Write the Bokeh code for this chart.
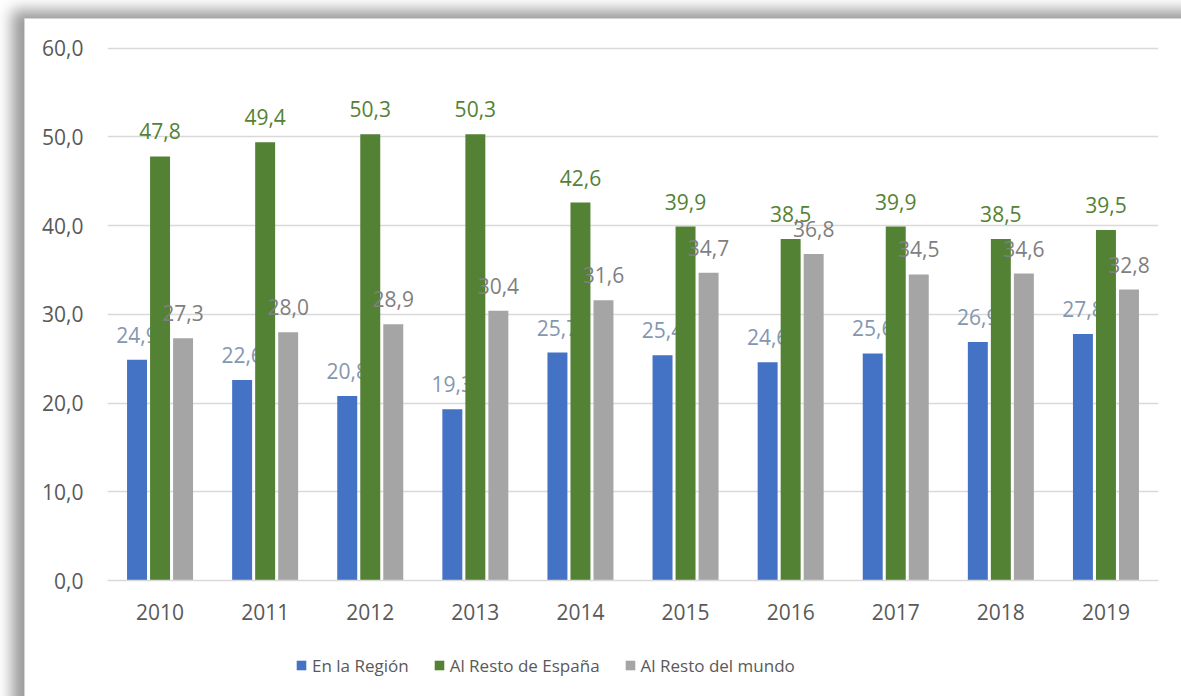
from bokeh.plotting import figure
from bokeh.layouts import column
from bokeh.models import (Range1d, FactorRange, Legend, LegendItem,
                          ColumnDataSource, FixedTicker)
from bokeh.transform import dodge
from bokeh.core.properties import value
from bokeh.embed import file_html
from bokeh.resources import INLINE

years = ["2010", "2011", "2012", "2013", "2014", "2015", "2016", "2017", "2018", "2019"]
region = [24.9, 22.6, 20.8, 19.3, 25.7, 25.4, 24.6, 25.6, 26.9, 27.8]
espana = [47.8, 49.4, 50.3, 50.3, 42.6, 39.9, 38.5, 39.9, 38.5, 39.5]
mundo = [27.3, 28.0, 28.9, 30.4, 31.6, 34.7, 36.8, 34.5, 34.6, 32.8]
series_names = ["En la Región", "Al Resto de España", "Al Resto del mundo"]
y_ticks = [0, 10, 20, 30, 40, 50, 60]
y_tick_labels = ["0,0", "10,0", "20,0", "30,0", "40,0", "50,0", "60,0"]

def fmt(v):
    return f"{v:.1f}".replace(".", ",")

src = ColumnDataSource(dict(
    year=years, region=region, espana=espana, mundo=mundo,
    region_l=[fmt(v) for v in region],
    espana_l=[fmt(v) for v in espana],
    mundo_l=[fmt(v) for v in mundo],
))

W = 1156
H1, H2 = 620, 57
p = figure(width=W, height=H1, x_range=FactorRange(*years, range_padding=0),
           y_range=Range1d(0, 60.2), output_backend="svg", toolbar_location=None,
           min_border_left=82, min_border_right=23, min_border_top=27, min_border_bottom=59)
p.outline_line_color = None
p.background_fill_color = "white"
p.border_fill_color = "white"

FONT = "Open Sans"
p.xaxis.major_label_text_font = FONT
p.yaxis.major_label_text_font = FONT
p.xaxis.major_label_text_font_size = "21px"
p.yaxis.major_label_text_font_size = "21px"
p.xaxis.major_label_text_color = "#595959"
p.yaxis.major_label_text_color = "#595959"
p.xaxis.major_tick_line_color = None
p.yaxis.major_tick_line_color = None
p.xaxis.minor_tick_line_color = None
p.yaxis.minor_tick_line_color = None
p.yaxis.axis_line_color = None
p.xaxis.axis_line_color = "#D9D9D9"
p.xaxis.axis_line_width = 1.5
p.xaxis.major_label_standoff = 17
p.yaxis.major_label_standoff = 18
p.yaxis.ticker = FixedTicker(ticks=y_ticks)
p.yaxis.major_label_overrides = {t: l for t, l in zip(y_ticks, y_tick_labels)}
p.xgrid.grid_line_color = None
p.ygrid.grid_line_color = "#D9D9D9"
p.ygrid.grid_line_width = 1.5
p.ygrid.ticker = FixedTicker(ticks=y_ticks)

colors = ["#4472C4", "#548235", "#A5A5A5"]
label_colors = ["#8497B0", "#548235", "#7F7F7F"]
offsets = [-0.219, 0.0, 0.219]
fields = ["region", "espana", "mundo"]
for f, c, lc, off in zip(fields, colors, label_colors, offsets):
    p.vbar(x=dodge("year", off, range=p.x_range), top=f, width=0.19, source=src,
           fill_color=c, line_color=None)
    p.text(x=dodge("year", off, range=p.x_range), y=f, text=f + "_l", source=src,
           text_align="center", text_baseline="middle", y_offset=-25,
           text_font=value(FONT), text_font_size="21px", text_color=lc)

# legend strip (separate figure below the chart; its frame aligns with the chart's)
p2 = figure(width=W, height=H2, x_range=Range1d(0, 1), y_range=Range1d(0, 1),
            output_backend="svg", toolbar_location=None, x_axis_type=None, y_axis_type=None,
            min_border=0)
p2.outline_line_color = None
p2.grid.visible = False
p2.background_fill_color = "white"
p2.border_fill_color = "white"
# legend keys: off-range swatches, only their colours are shown in the legend
keys = [p2.vbar(x=[-5], top=[-5], width=1, fill_color=c, line_color=None) for c in colors]
lg = Legend(items=[LegendItem(label=n, renderers=[r]) for n, r in zip(series_names, keys)],
            location=(188, 19), orientation="horizontal", padding=0, margin=0, spacing=24,
            glyph_width=12, glyph_height=12, label_standoff=5, label_height=24,
            label_text_font=FONT, label_text_font_size="17px",
            label_text_color="#595959", background_fill_alpha=0,
            border_line_color=None)
p2.add_layout(lg, "center")

layout = column(p, p2, spacing=0)
layout.margin = (19, 0, 0, 25)
layout.styles = {"box-shadow": "7px 11px 14px 20px rgba(0,0,0,0.40)",
                 "outline": "1px solid #d4d4d4", "background": "white"}

open("out.html", "w").write(file_html(layout, INLINE))
